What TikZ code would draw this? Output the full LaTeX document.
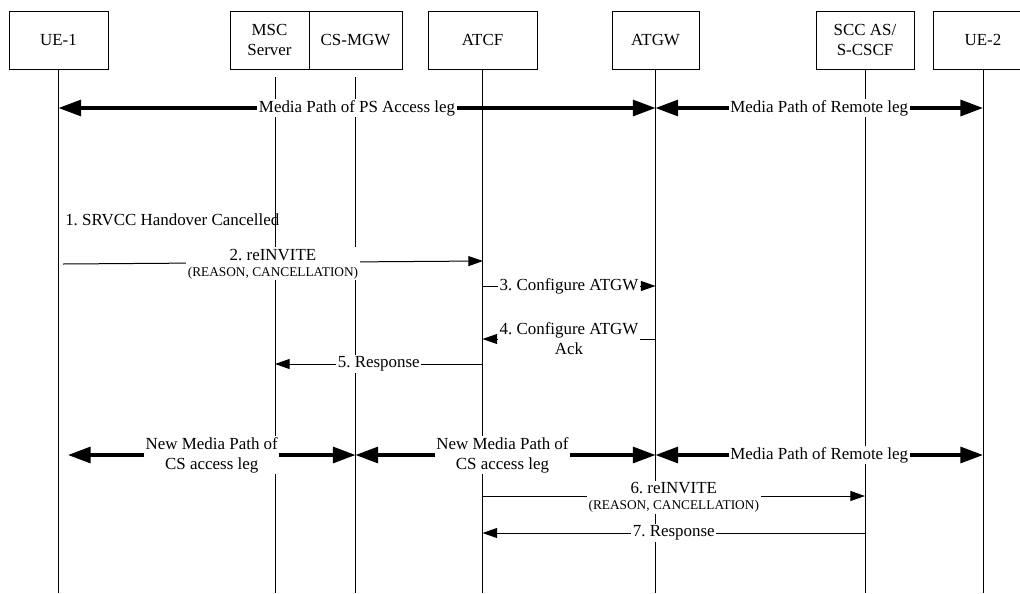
\documentclass[tikz,border=0pt]{standalone}
\usepackage{fontspec}
\setmainfont{Liberation Serif}
\usetikzlibrary{arrows.meta, positioning}
\frenchspacing

\begin{document}
\begin{tikzpicture}[
    x=0.75pt, y=-0.75pt,
    font=\fontsize{12.7}{16}\selectfont,
    ent/.style={draw, minimum height=43.5pt, inner sep=1pt, outer sep=0pt,
                text centered, align=center, line width=0.6pt},
    life/.style={line width=0.75pt},
    media/.style={{Triangle[length=17pt,width=12pt]}-{Triangle[length=17pt,width=12pt]},
                  line width=2.4pt},
    msg/.style={-{Triangle[length=11pt,width=7.5pt]}, line width=0.75pt},
    lbl/.style={fill=white, inner sep=1.2pt, align=center},
]
\useasboundingbox[fill=white] (0,0) rectangle (1020,593);
\clip (0,0) rectangle (1020,593);

\coordinate (bot) at (0,593);
\coordinate (gap) at (0,77);

\node[ent, minimum width=74.25pt] (ue1) at (58.5,40) {UE-1};
\node[ent, minimum width=59.25pt] (msc) at (269.5,40) {MSC\\[-1pt]Server};
\node[ent, minimum width=69.75pt, right=0pt of msc] (mgw) {CS-MGW};
\node[ent, minimum width=81.75pt] (atcf) at (482.5,40) {ATCF};
\node[ent, minimum width=65.25pt] (atgw) at (655.5,40) {ATGW};
\node[ent, minimum width=73.5pt] (scc) at (865,40) {SCC AS/\\[-1pt]S-CSCF};
\node[ent, minimum width=75pt] (ue2) at (983,40) {UE-2};

% lifelines
\coordinate (mscx) at (275,77);
\draw[life] (ue1.south) -- (ue1 |- bot);
\draw[life] (mscx) -- (mscx |- bot);
\draw[life] (mgw |- gap) -- (mgw |- bot);
\draw[life] (atcf.south) -- (atcf |- bot);
\draw[life] (atgw.south) -- (atgw |- bot);
\draw[life] (scc.south) -- (scc |- bot);
\draw[life] (ue2.south) -- (ue2 |- bot);

% rows
\coordinate (r1) at (0,108);
\coordinate (m2a) at (63,264);
\coordinate (m2b) at (483,261);
\coordinate (r3) at (0,286);
\coordinate (r4) at (0,339);
\coordinate (r5) at (0,364);
\coordinate (r6) at (0,455);
\coordinate (m6a) at (68,455);
\coordinate (r7) at (0,496);
\coordinate (r8) at (0,533);

\draw[media] (ue1 |- r1) -- node[lbl] {Media Path of PS Access leg} (atgw |- r1);
\draw[media] (atgw |- r1) -- node[lbl] {Media Path of Remote leg} (ue2 |- r1);

\node[anchor=west, inner sep=0pt] (s1) at (65,220) {1. SRVCC Handover Cancelled};

\draw[msg] (m2a) -- node[lbl, yshift=-1pt] {2. reINVITE\\[-4pt]{\fontsize{10}{12}\selectfont (REASON, CANCELLATION)}} (m2b);
\draw[msg] (atcf |- r3) -- node[lbl] {3. Configure ATGW} (atgw |- r3);
\draw[msg] (atgw |- r4) -- node[lbl] {4. Configure ATGW\\[-1pt]Ack} (atcf |- r4);
\draw[msg] (atcf |- r5) -- node[lbl] {5. Response} (mscx |- r5);

\draw[media] (m6a) -- node[lbl] {New Media Path of\\[-1pt]CS access leg} (mgw |- r6);
\draw[media] (mgw |- r6) -- node[lbl, pos=0.49] {New Media Path of\\[-1pt]CS access leg} (atgw |- r6);
\draw[media] (atgw |- r6) -- node[lbl] {Media Path of Remote leg} (ue2 |- r6);

\draw[msg] (atcf |- r7) -- node[lbl, yshift=-1pt] {6. reINVITE\\[-4pt]{\fontsize{10}{12}\selectfont (REASON, CANCELLATION)}} (scc |- r7);
\draw[msg] (scc |- r8) -- node[lbl] {7. Response} (atcf |- r8);
\end{tikzpicture}
\end{document}
